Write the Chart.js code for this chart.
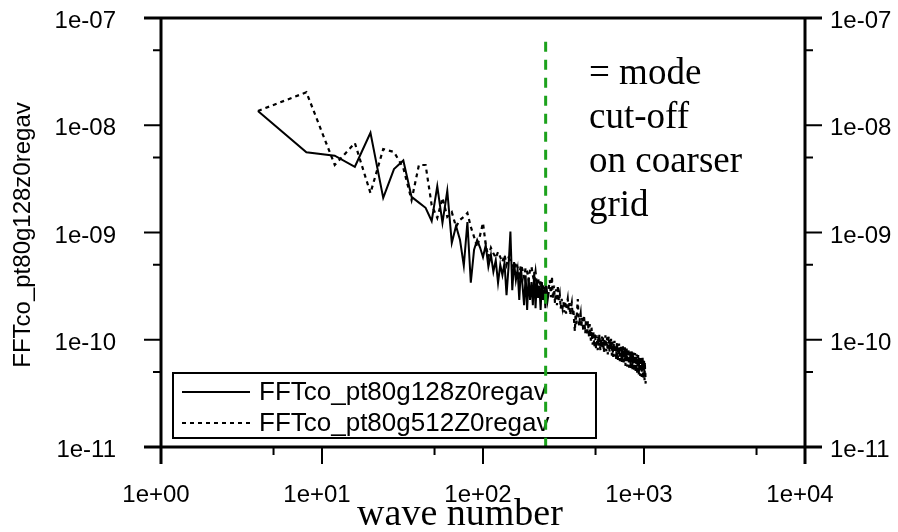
<!DOCTYPE html>
<html>
<head>
<meta charset="utf-8">
<script src="https://cdn.jsdelivr.net/npm/chart.js@4.4.1/dist/chart.umd.min.js"></script>
<style>
  html, body { margin: 0; padding: 0; background: #fff; }
  #wrap { width: 898px; height: 532px; }
</style>
</head>
<body>
<div id="wrap"><canvas id="spectrumChart" width="898" height="532"></canvas></div>
<script>
// spectra sampled every 4 wave numbers, starting at k = 4
const waveStep = 4;

// 128-grid spectrum, k = 4 .. 256
const spectrum128 = [
  1.36e-8, 5.6e-9, 5.2e-9, 4.1e-9, 8.5e-9, 2.1e-9, 3.9e-9, 4.7e-9,
  2.15e-9, 1.9e-9, 1.7e-9, 1.28e-9, 2.7e-9, 1.23e-9, 2.45e-9, 8.0e-10,
  1.15e-9, 8.5e-10, 4.9e-10, 1.25e-9, 3.4e-10, 6.9e-10, 8.5e-10, 7.2e-10,
  5.9e-10, 7.6e-10, 4.8e-10, 6.2e-10, 4.3e-10, 5.5e-10, 3.4e-10, 5.0e-10,
  4.0e-10, 5.2e-10, 2.6e-10, 4.7e-10, 1.02e-9, 2.9e-10, 5.3e-10, 3.6e-10,
  4.5e-10, 2.35e-10, 4.7e-10, 3.2e-10, 2.1e-10, 4.0e-10, 1.9e-10, 3.8e-10,
  2.35e-10, 3.45e-10, 2.1e-10, 4.3e-10, 1.97e-10, 3.6e-10, 2.45e-10, 3.2e-10,
  1.9e-10, 3.45e-10, 2.35e-10, 2.9e-10, 1.97e-10, 3.15e-10, 2.35e-10, 2.8e-10
];

// 512-grid spectrum, k = 4 .. 1024
const spectrum512 = [
  1.36e-8, 2.03e-8, 4.26e-9, 6.83e-9, 2.33e-9, 6.0e-9, 5.63e-9, 4.0e-9,
  2.01e-9, 4.26e-9, 4.26e-9, 1.8e-9, 1.37e-9, 2.1e-9, 1.4e-9, 1.55e-9,
  1.13e-9, 1.31e-9, 1.4e-9, 1.52e-9, 1.13e-9, 9.1e-10, 7.3e-10, 9.5e-10,
  1.23e-9, 7.6e-10, 5.9e-10, 7.2e-10, 6.4e-10, 5.8e-10, 6.6e-10, 5.9e-10,
  5.3e-10, 6.2e-10, 5.0e-10, 5.8e-10, 5.5e-10, 5.2e-10, 4.5e-10, 5.3e-10,
  4.7e-10, 4.0e-10, 5.0e-10, 4.5e-10, 3.8e-10, 4.7e-10, 4.3e-10, 3.6e-10,
  4.5e-10, 4.8e-10, 4.0e-10, 3.45e-10, 4.3e-10, 3.24e-10, 3.8e-10, 2.9e-10,
  3.6e-10, 2.8e-10, 3.24e-10, 2.56e-10, 3.38e-10, 2.9e-10, 2.45e-10, 3.04e-10,
  3.6e-10, 2.5e-10, 3.9e-10, 2.4e-10, 3.2e-10, 2.2e-10, 2.95e-10, 2.1e-10,
  3.2e-10, 2.3e-10, 2.6e-10, 1.95e-10, 2.4e-10, 2.0e-10, 2.25e-10, 1.8e-10,
  2.3e-10, 1.75e-10, 2.15e-10, 2.4e-10, 1.9e-10, 2.2e-10, 1.7e-10, 2.0e-10,
  2.2e-10, 1.7e-10, 1.95e-10, 1.5e-10, 1.2e-10, 1.75e-10, 1.4e-10, 1.9e-10,
  2.4e-10, 1.55e-10, 1.35e-10, 1.6e-10, 1.75e-10, 1.3e-10, 1.6e-10, 1.4e-10,
  1.2e-10, 1.7e-10, 1.35e-10, 1.15e-10, 1.55e-10, 1.3e-10, 1.1e-10, 1.5e-10,
  1.25e-10, 1.05e-10, 1.4e-10, 1.15e-10, 9.8e-11, 1.3e-10, 1.05e-10, 9.0e-11,
  1.2e-10, 1.0e-10, 8.5e-11, 1.15e-10, 9.5e-11, 8.2e-11, 1.1e-10, 9.2e-11,
  8.0e-11, 1.08e-10, 8.8e-11, 1.12e-10, 9.0e-11, 8.0e-11, 1.02e-10, 8.6e-11,
  1.07e-10, 8.3e-11, 1.05e-10, 8.8e-11, 7.6e-11, 1.03e-10, 8.5e-11, 1.1e-10,
  9.0e-11, 7.8e-11, 1.06e-10, 8.8e-11, 7.3e-11, 9.9e-11, 1.08e-10, 8.4e-11,
  7.7e-11, 9.8e-11, 8.2e-11, 1.02e-10, 8.6e-11, 7.1e-11, 9.6e-11, 8.0e-11,
  6.9e-11, 9.4e-11, 7.8e-11, 9.8e-11, 8.2e-11, 7.0e-11, 9.0e-11, 6.6e-11,
  8.7e-11, 9.5e-11, 7.6e-11, 6.4e-11, 8.8e-11, 7.3e-11, 9.2e-11, 7.5e-11,
  6.3e-11, 8.5e-11, 7.0e-11, 8.9e-11, 7.2e-11, 6.1e-11, 8.3e-11, 6.7e-11,
  8.7e-11, 7.0e-11, 5.9e-11, 8.1e-11, 6.7e-11, 8.5e-11, 6.9e-11, 5.7e-11,
  8.0e-11, 6.5e-11, 8.3e-11, 6.7e-11, 5.6e-11, 7.8e-11, 6.4e-11, 8.2e-11,
  6.6e-11, 5.5e-11, 7.7e-11, 6.3e-11, 8.0e-11, 6.4e-11, 5.4e-11, 7.5e-11,
  6.1e-11, 7.8e-11, 6.3e-11, 5.2e-11, 7.3e-11, 6.0e-11, 7.6e-11, 6.1e-11,
  5.1e-11, 7.2e-11, 5.9e-11, 7.5e-11, 6.0e-11, 5.0e-11, 7.0e-11, 5.7e-11,
  7.3e-11, 5.9e-11, 4.8e-11, 6.9e-11, 5.6e-11, 7.2e-11, 5.7e-11, 4.7e-11,
  6.8e-11, 5.5e-11, 7.0e-11, 5.6e-11, 4.6e-11, 6.6e-11, 5.4e-11, 6.9e-11,
  5.5e-11, 4.5e-11, 6.5e-11, 5.3e-11, 6.8e-11, 5.4e-11, 4.3e-11, 6.4e-11,
  5.2e-11, 6.6e-11, 5.3e-11, 4.2e-11, 6.2e-11, 5.0e-11, 4.8e-11, 3.9e-11
];

const seriesNames = ['FFTco_pt80g128z0regav', 'FFTco_pt80g512Z0regav'];

// mode cut-off of the coarser grid (vertical marker)
const cutoffWave = 245;
const cutoffSpan = [6e-8, 1e-11];

const xTicks = [1, 10, 100, 1000, 10000];
const xTickLabels = ['1e+00', '1e+01', '1e+02', '1e+03', '1e+04'];
const xMinorTicks = [5, 50, 500, 5000];
const yTicks = [1e-7, 1e-8, 1e-9, 1e-10, 1e-11];
const yTickLabels = ['1e-07', '1e-08', '1e-09', '1e-10', '1e-11'];
const yMinorTicks = [5e-8, 5e-9, 5e-10, 5e-11];

const xTitle = 'wave number';
const yTitle = 'FFTco_pt80g128z0regav';
const noteLines = ['= mode', 'cut-off', 'on coarser', 'grid'];

const SANS = "'Liberation Sans', Arial, sans-serif";
const SERIF = "'Liberation Serif', 'Times New Roman', serif";

function toPoints(values) {
  return values.map((v, i) => ({ x: waveStep * (i + 1), y: v }));
}

// frame, ticks, labels, legend box and note text
const framePlugin = {
  id: 'framePlugin',
  beforeDatasetsDraw(chart) {
    const ctx = chart.ctx;
    const bx = 173, by = 373, bw = 423, bh = 65;
    ctx.save();
    ctx.fillStyle = '#fff';
    ctx.fillRect(bx, by, bw, bh);
    ctx.lineWidth = 2;
    ctx.strokeStyle = '#000';
    ctx.strokeRect(bx, by, bw, bh);
    const rows = [392, 423];
    const dashes = [[], [4, 4]];
    ctx.font = '26px ' + SANS;
    ctx.fillStyle = '#000';
    ctx.textBaseline = 'middle';
    rows.forEach((ry, i) => {
      ctx.setLineDash(dashes[i]);
      ctx.beginPath();
      ctx.moveTo(182, ry);
      ctx.lineTo(250, ry);
      ctx.stroke();
      ctx.setLineDash([]);
      ctx.fillText(seriesNames[i], 259, ry + 1);
    });
    ctx.restore();
  },
  afterDatasetsDraw(chart) {
    const ctx = chart.ctx;
    const { left, right, top, bottom } = chart.chartArea;
    const xs = chart.scales.x, ys = chart.scales.y;
    const major = 17, minor = 8;
    ctx.save();
    ctx.strokeStyle = '#000';
    ctx.lineWidth = 3;
    ctx.beginPath();
    ctx.moveTo(left - major, top); ctx.lineTo(right + major, top);
    ctx.moveTo(left - major, bottom); ctx.lineTo(right + major, bottom);
    ctx.moveTo(left, top); ctx.lineTo(left, bottom + major);
    ctx.moveTo(right, top); ctx.lineTo(right, bottom + major);
    ctx.stroke();

    ctx.lineWidth = 2;
    ctx.beginPath();
    yTicks.forEach(v => {
      const py = ys.getPixelForValue(v);
      ctx.moveTo(left - major, py); ctx.lineTo(left, py);
      ctx.moveTo(right, py); ctx.lineTo(right + major, py);
    });
    yMinorTicks.forEach(v => {
      const py = ys.getPixelForValue(v);
      ctx.moveTo(left - minor, py); ctx.lineTo(left, py);
      ctx.moveTo(right, py); ctx.lineTo(right + minor, py);
    });
    xTicks.forEach(v => {
      const px = xs.getPixelForValue(v);
      ctx.moveTo(px, bottom); ctx.lineTo(px, bottom + major);
    });
    xMinorTicks.forEach(v => {
      const px = xs.getPixelForValue(v);
      ctx.moveTo(px, bottom); ctx.lineTo(px, bottom + minor);
    });
    ctx.stroke();

    ctx.fillStyle = '#000';
    ctx.font = '24px ' + SANS;
    ctx.textBaseline = 'alphabetic';
    yTicks.forEach((v, i) => {
      const py = ys.getPixelForValue(v) + 10;
      ctx.textAlign = 'right';
      ctx.fillText(yTickLabels[i], 116, py);
      ctx.textAlign = 'left';
      ctx.fillText(yTickLabels[i], 830, py);
    });
    ctx.textAlign = 'center';
    xTicks.forEach((v, i) => {
      ctx.fillText(xTickLabels[i], xs.getPixelForValue(v) - 5, 502);
    });

    // axis titles
    ctx.font = '38px ' + SERIF;
    ctx.fillText(xTitle, 460, 525);
    ctx.save();
    ctx.translate(23, 235);
    ctx.rotate(-Math.PI / 2);
    ctx.font = '24px ' + SANS;
    ctx.textBaseline = 'middle';
    ctx.fillText(yTitle, 0, 0);
    ctx.restore();

    ctx.font = '37px ' + SERIF;
    ctx.textAlign = 'left';
    noteLines.forEach((t, i) => ctx.fillText(t, 589, 84 + i * 44));
    ctx.restore();
  }
};

new Chart(document.getElementById('spectrumChart'), {
  type: 'scatter',
  data: {
    datasets: [
      {
        label: seriesNames[0],
        data: toPoints(spectrum128),
        showLine: true,
        borderColor: '#000',
        borderWidth: 2,
        pointRadius: 0,
        order: 1
      },
      {
        label: seriesNames[1],
        data: toPoints(spectrum512),
        showLine: true,
        borderColor: '#000',
        borderWidth: 2.2,
        borderDash: [4, 4],
        pointRadius: 0,
        order: 2
      },
      {
        label: 'cut-off',
        data: cutoffSpan.map(v => ({ x: cutoffWave, y: v })),
        showLine: true,
        borderColor: '#1ca21c',
        borderWidth: 3,
        borderDash: [10, 8],
        pointRadius: 0,
        order: 0
      }
    ]
  },
  options: {
    responsive: false,
    animation: false,
    devicePixelRatio: 1,
    layout: { padding: { left: 161, right: 93, top: 18, bottom: 85 } },
    scales: {
      x: { type: 'logarithmic', min: 1, max: 10000, display: false },
      y: { type: 'logarithmic', min: 1e-11, max: 1e-7, display: false }
    },
    plugins: {
      legend: { display: false },
      tooltip: { enabled: false }
    }
  },
  plugins: [framePlugin]
});
</script>
</body>
</html>
